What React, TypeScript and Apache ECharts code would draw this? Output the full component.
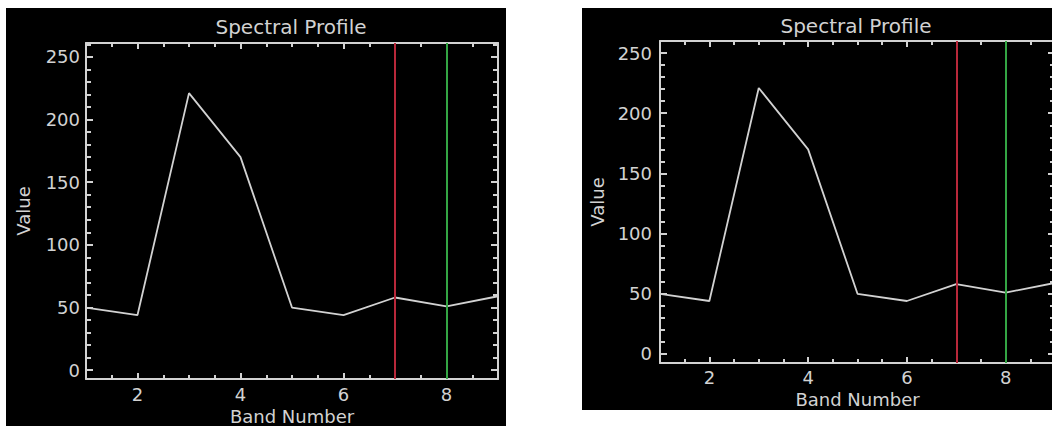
import React, { useEffect, useRef } from "react";
import * as echarts from "echarts";

// ---- data ----
const bands = [1, 2, 3, 4, 5, 6, 7, 8, 9];
const values = [50, 44, 221, 170, 50, 44, 58, 51, 59];
const markerBands = [7, 8];
const markerColors = ["#b8283a", "#34a544"];
const xLabelTicks = [2, 4, 6, 8];
const xMinorTicks = [1.5, 2.5, 3, 3.5, 4.5, 5, 5.5, 6.5, 7, 7.5, 8.5];
const yMajorTicks = [0, 50, 100, 150, 200, 250];
const yMinorTicks = [10, 20, 30, 40, 60, 70, 80, 90, 110, 120, 130, 140, 160, 170, 180, 190, 210, 220, 230, 240, 260];
const titleText = "Spectral Profile";
const xName = "Band Number";
const yName = "Value";

// ---- layout ----
const FG = "#d2d2d2";
const FONT = "DejaVu Sans";
const PANELS = [
  {
    bg: { x: 6, y: 8, width: 500, height: 418 },
    grid: { left: 86, top: 43, width: 412, height: 336 },
    yMin: -7, yMax: 261,
    title: { x: 291, y: 27 },
    xLabelMargin: 6, yLabelMargin: 6, xNameGap: 24, yNameGap: 54,
  },
  {
    bg: { x: 582, y: 8, width: 470, height: 402 },
    grid: { left: 660, top: 41, width: 395, height: 322 },
    yMin: -7.5, yMax: 260,
    title: { x: 856, y: 26 },
    xLabelMargin: 5, yLabelMargin: 8, xNameGap: 21, yNameGap: 54,
  },
];

function buildOption() {
  const grid: any[] = [];
  const xAxis: any[] = [];
  const yAxis: any[] = [];
  const series: any[] = [];
  const graphic: any[] = [];

  PANELS.forEach((p, i) => {
    graphic.push({
      type: "rect",
      z: -10,
      silent: true,
      shape: { x: p.bg.x, y: p.bg.y, width: p.bg.width, height: p.bg.height },
      style: { fill: "#000" },
    });
    graphic.push({
      type: "text",
      x: p.title.x,
      y: p.title.y,
      silent: true,
      style: {
        text: titleText,
        fill: FG,
        font: `20px "${FONT}"`,
        align: "center",
        verticalAlign: "middle",
      },
    });

    grid.push({ ...p.grid, containLabel: false, outerBoundsMode: "none", show: false });

    const hidden = { show: false, onZero: false };
    const line = { show: true, onZero: false, lineStyle: { color: FG, width: 2 } };
    const xBase = {
      type: "value",
      gridIndex: i,
      min: 1,
      max: 9,
      splitLine: { show: false },
      axisLabel: { show: false },
      axisLine: hidden,
    };
    xAxis.push({
      ...xBase,
      position: "bottom",
      axisLine: line,
      axisTick: { show: true, inside: true, length: 6, customValues: xLabelTicks, lineStyle: { color: FG, width: 2 } },
      axisLabel: { show: true, customValues: xLabelTicks, color: FG, fontSize: 18, fontFamily: FONT, margin: p.xLabelMargin },
      name: xName,
      nameLocation: "middle",
      nameGap: p.xNameGap,
      nameTextStyle: { color: FG, fontSize: 18, fontFamily: FONT },
    });
    xAxis.push({
      ...xBase,
      position: "bottom",
      axisTick: { show: true, inside: true, length: 4, customValues: xMinorTicks, lineStyle: { color: FG, width: 2 } },
    });
    xAxis.push({
      ...xBase,
      position: "top",
      axisLine: line,
      axisTick: { show: true, inside: true, length: 6, customValues: xLabelTicks, lineStyle: { color: FG, width: 2 } },
    });
    xAxis.push({
      ...xBase,
      position: "top",
      axisTick: { show: true, inside: true, length: 4, customValues: xMinorTicks, lineStyle: { color: FG, width: 2 } },
    });

    const yBase = {
      type: "value",
      gridIndex: i,
      min: p.yMin,
      max: p.yMax,
      splitLine: { show: false },
      axisLabel: { show: false },
      axisLine: hidden,
    };
    yAxis.push({
      ...yBase,
      position: "left",
      axisLine: line,
      axisTick: { show: true, inside: true, length: 7, customValues: yMajorTicks, lineStyle: { color: FG, width: 2 } },
      axisLabel: { show: true, customValues: yMajorTicks, color: FG, fontSize: 18, fontFamily: FONT, margin: p.yLabelMargin },
      name: yName,
      nameLocation: "middle",
      nameGap: p.yNameGap,
      nameTextStyle: { color: FG, fontSize: 18, fontFamily: FONT },
    });
    yAxis.push({
      ...yBase,
      position: "left",
      axisTick: { show: true, inside: true, length: 5, customValues: yMinorTicks, lineStyle: { color: FG, width: 2 } },
    });
    yAxis.push({
      ...yBase,
      position: "right",
      axisLine: line,
      axisTick: { show: true, inside: true, length: 7, customValues: yMajorTicks, lineStyle: { color: FG, width: 2 } },
    });
    yAxis.push({
      ...yBase,
      position: "right",
      axisTick: { show: true, inside: true, length: 5, customValues: yMinorTicks, lineStyle: { color: FG, width: 2 } },
    });

    series.push({
      type: "line",
      name: `${titleText} ${i + 1}`,
      xAxisIndex: i * 4,
      yAxisIndex: i * 4,
      data: bands.map((b, k) => [b, values[k]]),
      symbol: "none",
      lineStyle: { color: FG, width: 1.8 },
      silent: true,
      markLine: {
        silent: true,
        symbol: ["none", "none"],
        label: { show: false },
        data: markerBands.map((b, k) => ({
          xAxis: b,
          lineStyle: { color: markerColors[k], width: 2, type: "solid" },
        })),
      },
    });
  });

  return {
    animation: false,
    backgroundColor: "#ffffff",
    textStyle: { fontFamily: FONT },
    grid,
    xAxis,
    yAxis,
    series,
    graphic,
  };
}

export default function App() {
  const ref = useRef<HTMLDivElement>(null);
  useEffect(() => {
    if (!ref.current) return;
    const chart = echarts.init(ref.current, null, { renderer: "svg" });
    chart.setOption(buildOption() as any);
    return () => chart.dispose();
  }, []);
  return (
    <div
      ref={ref}
      style={{ position: "absolute", left: 0, top: 0, width: 1052, height: 426 }}
    />
  );
}
